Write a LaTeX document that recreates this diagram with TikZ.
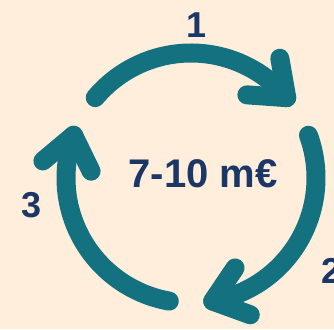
\documentclass[tikz,border=0pt]{standalone}
\usepackage{fontspec}
\setmainfont{Liberation Sans}
\usetikzlibrary{calc}
\definecolor{bgc}{HTML}{FEEEDB}
\definecolor{teal1}{HTML}{137180}
\definecolor{navy1}{HTML}{1A3766}
\begin{document}
\begin{tikzpicture}[x=1pt,y=1pt,
  cyc/.style={draw=teal1,line width=19pt,line cap=round,line join=round},
  lbl/.style={text=navy1,font=\fontsize{36}{40}\selectfont\bfseries,anchor=base,inner sep=0pt},
  ctr/.style={text=navy1,font=\fontsize{40}{44}\selectfont\bfseries,anchor=base,inner sep=0pt}]
\fill[bgc] (0,0) rectangle (334,329);
\useasboundingbox (0,0) rectangle (334,329);
\clip (0,0) rectangle (334,329);
\coordinate (C) at (191,151);
\foreach \k in {0,1,2}{
  \pgfmathsetmacro{\sa}{140-120*\k}
  \pgfmathsetmacro{\ea}{40-120*\k}
  \pgfmathsetmacro{\aa}{\ea+98+38}
  \pgfmathsetmacro{\ab}{\ea+98-38}
  \coordinate (s\k) at ($(C)+(\sa:125)$);
  \coordinate (t\k) at ($(C)+(\ea:125)$);
  \draw[cyc] (s\k) arc[start angle=\sa, end angle=\ea, radius=125];
  \draw[cyc] ($(t\k)+(\aa:40)$) -- (t\k) -- ($(t\k)+(\ab:40)$);
}
\node[ctr] (m) at (203,141) {7-10 m€};
\node[lbl] (l1) at (197,291) {1};
\node[lbl] (l2) at (332,46) {2};
\node[lbl] (l3) at (32,111) {3};
\end{tikzpicture}
\end{document}
